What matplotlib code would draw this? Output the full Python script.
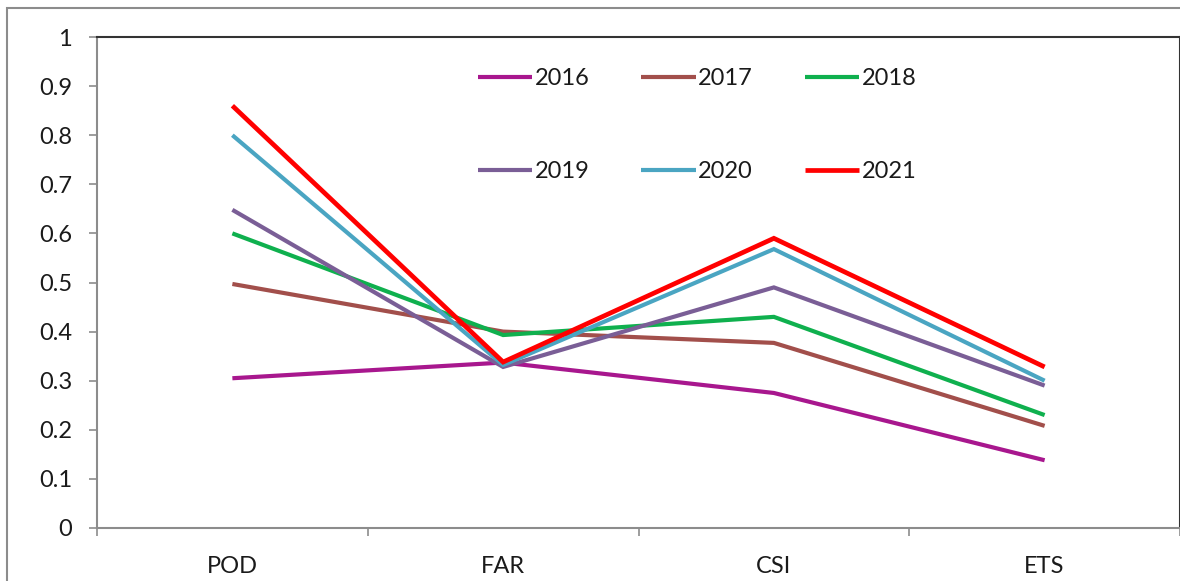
import matplotlib
matplotlib.use("Agg")
import matplotlib.pyplot as plt
from matplotlib.patches import Rectangle

plt.rcParams['font.family'] = ['Lato', 'DejaVu Sans']

categories = ["POD", "FAR", "CSI", "ETS"]
years = ["2016", "2017", "2018", "2019", "2020", "2021"]
v2016 = [0.305, 0.337, 0.275, 0.138]
v2017 = [0.497, 0.400, 0.377, 0.208]
v2018 = [0.600, 0.393, 0.430, 0.230]
v2019 = [0.648, 0.328, 0.490, 0.290]
v2020 = [0.800, 0.332, 0.568, 0.300]
v2021 = [0.860, 0.338, 0.590, 0.328]
series = [v2016, v2017, v2018, v2019, v2020, v2021]
colors = ["#A8178E", "#A24F4B", "#0FB04E", "#7A5E96", "#4AA5C2", "#FF0000"]
widths = [3.0, 3.0, 3.0, 3.0, 3.0, 3.4]
yticks = [0, 0.1, 0.2, 0.3, 0.4, 0.5, 0.6, 0.7, 0.8, 0.9, 1]
ytick_labels = ["0", "0.1", "0.2", "0.3", "0.4", "0.5", "0.6", "0.7", "0.8", "0.9", "1"]

W, H = 1180, 581
fig = plt.figure(figsize=(W / 100, H / 100), dpi=100)
fig.patch.set_facecolor("white")
fig.add_artist(Rectangle((7 / W, -0.05), 1.2, (H - 8) / H + 0.05, transform=fig.transFigure,
                         fill=False, edgecolor="#8C8C8C", linewidth=1.5))

left, right, top, bottom = 97, 1180, 37, 528
ax = fig.add_axes([left / W, (H - bottom) / H, (right - left) / W, (bottom - top) / H])

x = list(range(len(categories)))
handles = []
for vals, c, lw, yr in zip(series, colors, widths, years):
    ln, = ax.plot(x, vals, color=c, linewidth=lw, solid_capstyle="butt", solid_joinstyle="miter", label=yr)
    handles.append(ln)

ax.set_xlim(-0.5, len(categories) - 0.5)
ax.set_ylim(0, 1)
ax.set_yticks(yticks)
ax.set_yticklabels(ytick_labels)
ax.set_xticks([i - 0.5 for i in range(len(categories) + 1)])
ax.set_xticklabels([])
ax.set_xticks(x, minor=True)
ax.set_xticklabels(categories, minor=True)
ax.tick_params(axis="x", which="major", direction="out", length=6, width=1.2, color="#8C8C8C")
ax.tick_params(axis="x", which="minor", length=0, pad=20, labelsize=17, labelcolor="#1a1a1a")
ax.tick_params(axis="y", direction="out", length=6, width=1.2, color="#8C8C8C", pad=12,
               labelsize=17, labelcolor="#1a1a1a")

for s in ["left", "bottom"]:
    ax.spines[s].set_color("#8C8C8C")
    ax.spines[s].set_linewidth(1.5)
for s in ["top", "right"]:
    ax.spines[s].set_color("#333333")
    ax.spines[s].set_linewidth(1.5)

# row-major ordering for a 3-column legend (matplotlib fills columns first)
order = [0, 3, 1, 4, 2, 5]
leg = ax.legend(handles=[handles[i] for i in order], ncol=3, loc="upper left",
                bbox_to_anchor=((478 - left) / (right - left), (bottom - 68) / (bottom - top)),
                frameon=False, fontsize=17, handlelength=2.3, handletextpad=0.1,
                columnspacing=2.2, labelspacing=3.05, borderaxespad=0, borderpad=0)
for t in leg.get_texts():
    t.set_color("#1a1a1a")

fig.savefig("out.png", dpi=100, facecolor="white")
